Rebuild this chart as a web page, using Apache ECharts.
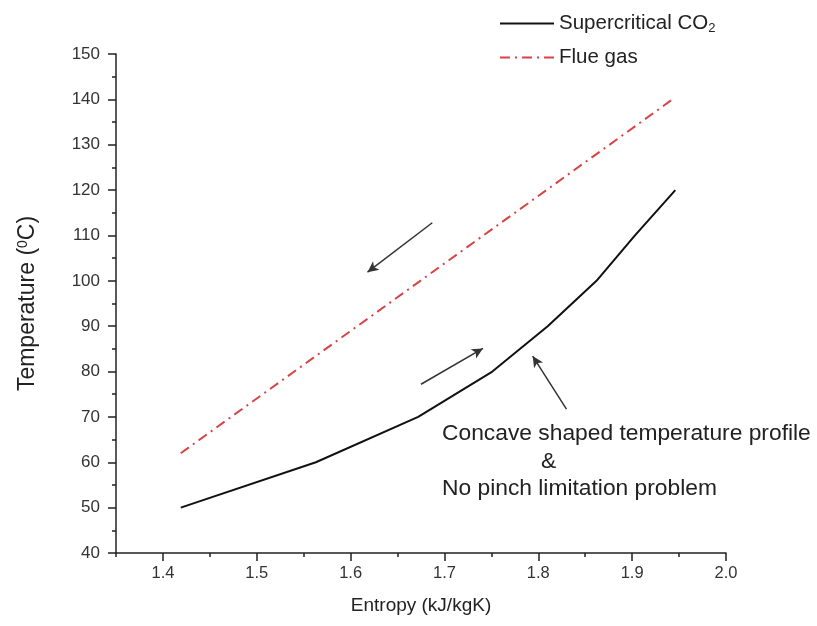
<!DOCTYPE html>
<html>
<head>
<meta charset="utf-8">
<script src="https://cdn.jsdelivr.net/npm/echarts@6/dist/echarts.min.js"></script>
<style>
html,body{margin:0;padding:0;background:#fff;}
#chart{width:817px;height:626px;}
</style>
</head>
<body>
<div id="chart"></div>
<script>
// ---- data ----
const co2Entropy = [1.419, 1.563, 1.672, 1.751, 1.810, 1.862, 1.903, 1.946];
const co2Temp    = [50, 60, 70, 80, 90, 100, 110, 120];
const flueEntropy = [1.419, 1.943];
const flueTemp    = [62, 140];
const xMajorTicks = [1.4, 1.5, 1.6, 1.7, 1.8, 1.9, 2.0];
const xMinorTicks = [1.35, 1.45, 1.55, 1.65, 1.75, 1.85, 1.95];
const seriesNames = ['Supercritical CO2', 'Flue gas'];
// annotation arrows [start entropy, start temp, end entropy, end temp]
const arrowFlue = [1.687, 112.8, 1.618, 101.9];
const arrowCo2  = [1.675, 77.2, 1.741, 85.1];
const arrowNote = [1.830, 71.7, 1.794, 83.4];
const noteLines = ['Concave shaped temperature profile', '&', 'No pinch limitation problem'];

const co2Data = co2Entropy.map((s, i) => [s, co2Temp[i]]);
const flueData = flueEntropy.map((s, i) => [s, flueTemp[i]]);
const arrowSeg = a => [{coord: [a[0], a[1]]}, {coord: [a[2], a[3]]}];

const txt = '#222';
const font = 'Arial, "Liberation Sans", sans-serif';
const chart = echarts.init(document.getElementById('chart'));
chart.setOption({
  animation: false,
  backgroundColor: '#fff',
  textStyle: {fontFamily: font},
  grid: {left: 116, right: 91, top: 54, bottom: 73, containLabel: false},
  legend: {
    orient: 'vertical', left: 494, top: 8, itemWidth: 54, itemHeight: 14, itemGap: 12,
    data: seriesNames,
    itemStyle: {opacity: 0},
    formatter: n => n === 'Supercritical CO2' ? 'Supercritical CO{sub|2}' : n,
    textStyle: {fontSize: 20.5, color: txt, fontFamily: font,
      rich: {sub: {fontSize: 13, verticalAlign: 'bottom', padding: [10, 0, 0, 0], color: txt}}}
  },
  xAxis: [{
    type: 'value', min: 1.35, max: 2.0,
    name: 'Entropy (kJ/kgK)', nameLocation: 'middle', nameGap: 43,
    nameTextStyle: {fontSize: 19, color: txt, fontFamily: font},
    axisLine: {show: true, lineStyle: {color: '#222', width: 1.5}},
    axisTick: {show: true, customValues: xMajorTicks, length: 8, lineStyle: {color: '#222', width: 1.5}},
    axisLabel: {customValues: xMajorTicks, margin: 12, fontSize: 16.5, color: '#333', fontFamily: font,
      formatter: v => v.toFixed(1)},
    splitLine: {show: false}
  }, {
    type: 'value', min: 1.35, max: 2.0, position: 'bottom',
    axisLine: {show: false},
    axisTick: {show: true, customValues: xMinorTicks, length: 4, lineStyle: {color: '#222', width: 1.5}},
    axisLabel: {show: false}, splitLine: {show: false}
  }],
  yAxis: {
    type: 'value', min: 40, max: 150, interval: 10,
    name: 'Temperature ({sup|0}C)', nameLocation: 'middle', nameGap: 77,
    nameTextStyle: {fontSize: 23, color: txt, fontFamily: font,
      rich: {sup: {fontSize: 14, verticalAlign: 'top', padding: [0, 0, 9, 0], color: txt}}},
    axisLine: {show: true, lineStyle: {color: '#222', width: 1.5}},
    axisTick: {show: true, length: 8, lineStyle: {color: '#222', width: 1.5}},
    minorTick: {show: true, splitNumber: 2, length: 4, lineStyle: {color: '#222', width: 1.5}},
    axisLabel: {margin: 16, fontSize: 17, color: '#333', fontFamily: font},
    splitLine: {show: false}
  },
  series: [{
    name: 'Supercritical CO2', type: 'line', data: co2Data, showSymbol: false, symbol: 'none',
    lineStyle: {color: '#111', width: 2}, itemStyle: {color: '#111'},
    markLine: {
      silent: true, symbol: ['none', 'arrow'], symbolSize: [8, 11],
      label: {show: false},
      lineStyle: {color: '#333', width: 1.5, type: 'solid'},
      data: [arrowSeg(arrowFlue), arrowSeg(arrowCo2), arrowSeg(arrowNote)]
    }
  }, {
    name: 'Flue gas', type: 'line', data: flueData, showSymbol: false, symbol: 'none',
    lineStyle: {color: '#d84343', width: 2, type: [10, 5, 2, 5]}, itemStyle: {color: '#d84343'}
  }],
  graphic: [
    {type: 'text', left: 442, top: 422, style: {text: noteLines[0], fontSize: 22.8, fill: txt, fontFamily: font}},
    {type: 'text', left: 541, top: 450, style: {text: noteLines[1], fontSize: 22.8, fill: txt, fontFamily: font}},
    {type: 'text', left: 442, top: 477, style: {text: noteLines[2], fontSize: 22.8, fill: txt, fontFamily: font}}
  ]
});
</script>
</body>
</html>
